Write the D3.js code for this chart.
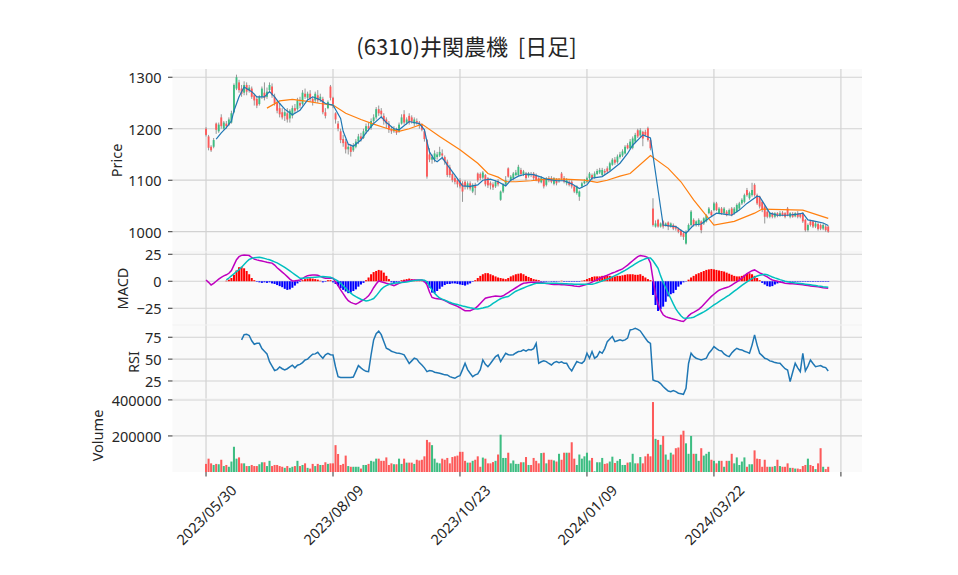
<!DOCTYPE html>
<html><head><meta charset="utf-8">
<script src="https://cdn.jsdelivr.net/npm/d3@7"></script>
<style>body{margin:0;background:#fff}svg{display:block}text{font-family:"Noto Sans","Noto Sans CJK JP",sans-serif;fill:#262626}</style>
</head><body><svg id="c" width="958" height="575"></svg>
<script>
const title = "(6310)井関農機  [日足]";
const tickIdx = [0,50,100,150,200,250];
const tickLabels = ["2023/05/30","2023/08/09","2023/10/23","2024/01/09","2024/03/22",""];
const priceTicks=[1000,1100,1200,1300], macdTicks=[-25,0,25], rsiTicks=[25,50,75], volTicks=[200000,400000];

const open=[1200,1185,1165,1165,1210,1195,1222,1200,1210,1208,1212,1232,1278,1290,1278,1270,1285,1275,1278,1265,1258,1248,1262,1270,1262,1275,1282,1262,1250,1240,1232,1225,1230,1220,1225,1240,1238,1250,1248,1268,1260,1268,1258,1255,1265,1258,1258,1232,1240,1282,1260,1230,1210,1195,1180,1175,1160,1165,1158,1165,1175,1185,1182,1195,1205,1202,1215,1222,1238,1235,1225,1218,1210,1198,1195,1198,1195,1210,1228,1212,1225,1222,1210,1215,1212,1207,1195,1178,1150,1140,1140,1145,1148,1152,1145,1136,1125,1112,1104,1100,1100,1094,1097,1086,1094,1078,1090,1113,1112,1105,1110,1104,1095,1092,1088,1098,1062,1078,1092,1123,1100,1104,1110,1110,1120,1112,1113,1108,1112,1113,1110,1104,1096,1102,1091,1104,1104,1093,1102,1098,1113,1104,1094,1097,1097,1088,1075,1068,1088,1094,1097,1104,1110,1106,1112,1115,1110,1118,1123,1120,1130,1140,1135,1145,1148,1152,1168,1162,1163,1175,1197,1187,1194,1194,1201,1178,1045,1010,1023,1010,1020,1013,1018,1010,1013,1010,1006,1003,997,977,1003,1013,1023,1013,1013,1020,1016,1020,1036,1039,1042,1055,1036,1045,1036,1039,1034,1045,1036,1039,1045,1055,1058,1081,1065,1071,1091,1071,1068,1058,1049,1039,1029,1036,1029,1036,1031,1037,1036,1045,1029,1035,1030,1036,1034,1036,1023,1003,1020,1020,1010,1015,1013,1006,1010,1010];
const high=[1203,1188,1168,1182,1212,1212,1228,1215,1215,1222,1235,1288,1305,1295,1285,1292,1290,1285,1282,1268,1262,1265,1282,1290,1280,1290,1288,1268,1255,1250,1240,1238,1240,1238,1245,1248,1260,1262,1275,1278,1272,1275,1262,1272,1275,1268,1262,1240,1255,1285,1262,1232,1215,1200,1188,1180,1170,1170,1172,1180,1190,1192,1200,1210,1212,1220,1228,1242,1245,1240,1230,1222,1215,1205,1205,1202,1212,1228,1236,1222,1230,1226,1222,1220,1215,1210,1198,1180,1162,1150,1158,1155,1165,1160,1148,1140,1130,1115,1108,1104,1104,1098,1100,1098,1098,1094,1095,1115,1115,1118,1112,1106,1098,1096,1100,1102,1080,1094,1108,1125,1110,1116,1120,1130,1124,1120,1116,1116,1116,1116,1113,1106,1108,1104,1106,1108,1108,1106,1104,1104,1116,1108,1104,1100,1100,1090,1090,1080,1097,1102,1107,1116,1113,1117,1122,1124,1124,1122,1127,1136,1143,1145,1150,1155,1160,1168,1172,1180,1185,1192,1200,1201,1196,1198,1204,1180,1065,1022,1025,1018,1022,1018,1020,1018,1016,1012,1008,1005,1000,1003,1016,1042,1026,1022,1026,1022,1028,1034,1048,1042,1058,1058,1048,1048,1048,1042,1045,1048,1048,1055,1058,1065,1074,1085,1078,1095,1094,1074,1070,1060,1052,1042,1038,1038,1038,1038,1040,1040,1038,1048,1038,1038,1038,1040,1036,1038,1025,1016,1023,1022,1019,1018,1016,1016,1013,1012];
const low=[1185,1158,1155,1162,1190,1192,1200,1198,1200,1205,1210,1230,1275,1270,1262,1265,1265,1270,1258,1245,1240,1245,1258,1255,1258,1270,1260,1245,1230,1222,1218,1215,1212,1212,1220,1230,1235,1240,1245,1258,1255,1252,1245,1250,1250,1252,1228,1220,1238,1255,1240,1210,1195,1172,1165,1152,1150,1146,1155,1162,1170,1175,1180,1190,1195,1198,1210,1218,1225,1220,1208,1200,1192,1190,1192,1188,1192,1208,1208,1208,1208,1210,1205,1208,1200,1195,1175,1103,1135,1132,1135,1140,1145,1140,1130,1106,1105,1096,1092,1086,1084,1058,1082,1082,1080,1075,1071,1096,1100,1102,1088,1085,1082,1081,1085,1088,1060,1075,1090,1105,1098,1100,1108,1108,1108,1108,1100,1105,1106,1100,1098,1094,1094,1084,1088,1096,1094,1090,1090,1095,1100,1094,1090,1088,1084,1075,1072,1060,1085,1092,1094,1100,1100,1103,1110,1112,1108,1110,1113,1117,1128,1130,1132,1142,1145,1150,1160,1160,1160,1172,1182,1184,1166,1185,1175,1158,1010,1008,1008,1008,1006,1010,1003,1008,1003,1002,997,990,984,975,1000,1010,1010,1010,1010,997,1013,1018,1034,1029,1040,1040,1034,1033,1033,1030,1032,1030,1033,1037,1042,1052,1055,1068,1062,1068,1068,1052,1045,1038,1016,1026,1026,1026,1026,1028,1029,1030,1026,1030,1026,1027,1028,1026,1026,1017,1000,1000,1010,1007,1007,1002,1003,1003,1000,998];
const close=[1188,1163,1158,1178,1198,1208,1205,1212,1205,1218,1230,1285,1300,1275,1268,1285,1272,1280,1262,1255,1245,1262,1278,1260,1272,1285,1265,1250,1235,1228,1222,1232,1218,1235,1240,1235,1255,1245,1270,1262,1268,1258,1252,1268,1255,1262,1232,1225,1252,1260,1248,1218,1200,1178,1172,1160,1165,1155,1168,1175,1185,1180,1195,1205,1200,1215,1222,1238,1230,1228,1215,1210,1198,1195,1200,1192,1208,1222,1212,1218,1212,1214,1218,1212,1208,1198,1180,1107,1140,1145,1152,1150,1155,1148,1136,1110,1110,1100,1097,1092,1088,1078,1088,1094,1084,1091,1085,1100,1104,1115,1092,1090,1090,1086,1097,1092,1078,1091,1100,1107,1107,1113,1115,1126,1112,1117,1104,1113,1110,1104,1100,1097,1104,1088,1104,1100,1097,1104,1094,1100,1104,1097,1100,1091,1088,1078,1088,1078,1094,1098,1104,1113,1104,1113,1118,1120,1120,1115,1117,1133,1140,1134,1146,1150,1156,1165,1162,1175,1181,1188,1185,1197,1181,1188,1178,1162,1013,1016,1010,1016,1010,1016,1010,1016,1006,1006,1000,993,990,1000,1013,1039,1013,1020,1023,1003,1026,1032,1045,1032,1055,1042,1045,1036,1045,1032,1042,1032,1045,1052,1055,1062,1071,1071,1075,1081,1071,1055,1049,1042,1029,1029,1036,1029,1036,1031,1036,1032,1029,1032,1036,1029,1036,1029,1029,1020,1003,1013,1013,1010,1016,1005,1006,1013,1003,1000];
const volume=[45,74,48,39,45,43,68,33,39,29,58,140,74,81,48,48,33,33,39,33,33,43,54,54,33,62,33,39,39,33,29,23,33,23,29,33,62,33,39,48,23,19,45,33,45,39,39,54,45,48,48,149,100,39,45,91,33,29,29,29,29,19,39,39,45,62,58,74,74,62,62,81,39,48,43,43,74,45,74,52,52,52,45,68,64,68,87,178,165,149,74,52,48,74,68,78,48,83,87,91,112,112,62,52,52,62,68,87,29,80,74,48,48,55,62,97,207,78,78,107,48,64,45,45,54,54,83,39,39,78,62,48,105,107,48,68,68,64,58,101,68,107,107,107,165,74,39,97,74,87,107,64,78,4,54,54,78,45,48,58,85,50,62,72,39,39,52,54,101,48,48,83,48,87,101,87,388,184,178,151,200,97,68,107,97,132,136,207,229,159,101,200,101,101,62,132,91,101,112,68,62,48,62,62,29,62,62,101,48,81,39,58,81,29,43,43,120,74,72,29,68,29,29,29,33,68,33,29,29,48,23,23,19,19,16,33,39,74,39,33,16,48,132,29,16,29].map(v=>v*1000);

const ma5=[[4,1180],[6,1192],[8,1202],[10,1215],[11,1235],[13,1262],[15,1281],[18,1272],[20,1262],[23,1262],[25,1272],[27,1262],[29,1249],[31,1238],[34,1227],[37,1236],[40,1256],[42,1262],[45,1256],[47,1249],[50,1246],[53,1220],[54,1195],[56,1170],[58,1166],[61,1178],[63,1192],[66,1210],[69,1223],[71,1212],[74,1200],[76,1198],[80,1214],[84,1210],[86,1198],[87,1175],[88,1155],[90,1139],[91,1136],[93,1144],[95,1130],[98,1110],[101,1089],[104,1088],[107,1091],[109,1100],[112,1102],[115,1097],[118,1089],[120,1100],[123,1108],[126,1112],[129,1111],[132,1106],[134,1102],[138,1099],[141,1099],[144,1093],[147,1084],[150,1091],[152,1104],[156,1107],[159,1117],[163,1133],[166,1152],[168,1168],[172,1188],[175,1182],[180,1013],[183,1011],[185,1010],[187,1003],[189,997],[192,1013],[195,1015],[198,1026],[201,1036],[204,1034],[207,1032],[210,1042],[213,1055],[217,1069],[218,1068],[220,1052],[222,1036],[225,1032],[229,1032],[233,1034],[235,1036],[237,1023],[240,1020],[243,1017],[245,1012]];
const ma25=[[24,1240],[29,1254],[34,1257],[40,1253],[45,1249],[50,1246],[55,1230],[61,1218],[66,1209],[71,1201],[76,1195],[80,1200],[85,1209],[92,1185],[100,1159],[107,1133],[111,1113],[115,1106],[118,1097],[122,1097],[128,1099],[134,1102],[141,1102],[149,1100],[154,1096],[158,1100],[163,1108],[167,1113],[175,1148],[182,1123],[187,1097],[192,1062],[200,1013],[208,1020],[216,1036],[219,1044],[235,1042],[245,1026]];

const macd=[1.2,-1,-3.4,-2,0,2,3.7,5,6,7.4,10,15,20,22.8,24,24.4,24.2,23.8,22,20.5,19.8,19.2,18.8,18.2,17.6,17.2,16.8,15,12.5,10.5,8.5,6.5,4.3,2,0.3,0.4,0.8,1.2,2.5,4,5.2,5.5,5.8,5.9,5.5,4.5,3.5,2.9,2.8,2.8,2.8,-0.5,-4,-8,-11.5,-15,-18,-19.5,-20.5,-21.3,-20,-18.5,-17.3,-15.5,-13.5,-10,-6,-2.5,0.3,-0.5,-1.2,-1.9,-2.5,-3.2,-4,-3,-2,-1,-0.3,0.2,0.6,1,1.2,1.2,1.2,1.2,0,-3.4,-10,-15,-15.7,-16.1,-16.5,-17,-17.8,-19,-20.4,-21.3,-22.2,-23.2,-24.5,-26,-27.2,-27.3,-27.2,-26.3,-25,-23,-20.5,-18,-15.7,-15,-14.5,-14,-13.7,-13.8,-14,-13.5,-12,-10.5,-9,-7.5,-6,-4.5,-3,-1.9,-1.5,-1.2,-1,-0.9,-0.9,-0.9,-1.2,-1.6,-2,-2.4,-2.7,-2.9,-3,-3.1,-3.2,-3.3,-3.4,-3.7,-4,-4.4,-4.7,-4.9,-4.2,-3.4,-2.7,-1.9,-0.8,0.4,1.5,2.6,3.7,4.8,5.6,6.6,7.6,8.5,9.5,10.5,11.4,13.2,15,17,19,21,22.8,23.8,23.5,23,21.9,17,2,-12,-21,-27,-31,-32.7,-33.6,-34.3,-34.9,-35.5,-36.2,-36.8,-37.3,-35,-32,-30,-28.8,-27.5,-26,-24,-21.5,-19,-16.5,-14,-12,-10,-8.3,-7.3,-6.5,-5.7,-5,-3.5,-2,-0.5,1,3,5,7,8.5,9.8,10.5,9.2,7.8,6.7,5.3,4,2.5,1.2,0.6,0,-0.6,-1.2,-1.8,-2,-2.2,-2.4,-2.6,-2.7,-2.9,-3.3,-3.7,-4,-4.3,-4.6,-4.9,-5.2,-5.5,-5.9,-6.2,-6.5];
const signalStart=8;
const signal=[1.2,3,5,7,9,10.8,13,15.5,18,20.2,21.2,21.8,22.1,22.2,21.8,21.2,20.5,19.9,19,18,17,15.7,14.3,12.8,11.2,9.6,7.9,6.2,4.5,2.8,2.9,3.1,3.3,3.4,3.6,3.8,4,4.2,4.3,4.1,3.9,3.7,2.7,1.5,0.2,-1.8,-4.2,-6.6,-9,-11,-12.8,-14.3,-15.5,-16.6,-17.5,-18.2,-17.8,-17,-16,-13.5,-10.5,-7.5,-5.3,-4,-3,-2.2,-1.8,-1.5,-1.3,-1.1,-0.9,-0.6,-0.2,0.2,0.6,0.9,1.1,1.2,1,-0.5,-4.5,-8,-11,-13.5,-15.5,-16.5,-17.5,-18.5,-19.5,-20.4,-21,-21.6,-22.3,-22.9,-23.4,-24,-24.6,-25,-25.4,-25.6,-25.2,-24.7,-24.1,-23.6,-22.3,-20.5,-19,-17.5,-16.2,-15.2,-14.6,-14.2,-12.5,-10.8,-9.2,-8.2,-7.2,-6.2,-5.2,-4.3,-3.4,-2.6,-1.9,-1.9,-1.9,-1.9,-1.9,-1.9,-1.9,-1.9,-1.9,-2,-2.1,-2.2,-2.3,-2.5,-2.6,-2.7,-2.8,-2.8,-2.8,-2.8,-2.8,-2.8,-2.8,-2.2,-1.4,-0.6,0.3,1.1,2,2.8,4,5.2,6.3,7.5,8.8,10,11.5,13,14.5,16,17.5,18.8,19.8,20.8,21.6,21.5,19,15.5,12,5,-1,-6,-11,-16,-21,-25.5,-29,-32,-34,-34.3,-34.1,-33.8,-33.3,-32,-30.8,-29.6,-28.4,-27,-25.3,-23.6,-21.9,-20.4,-18.8,-17.3,-15.8,-14.3,-12.8,-11,-9.2,-7.5,-5.7,-3.9,-2.2,-0.6,1,2.5,3.8,4.8,5.5,6,6.4,6,5,4,3.1,2.3,1.5,0.8,0,-0.5,-0.9,-1.2,-1.5,-1.8,-2.1,-2.4,-2.7,-3,-3.3,-3.6,-3.9,-4.3,-4.6,-5,-5.3,-5.6];
const hist=[0.5,1.5,3,6,10,13,13.5,12,9.5,6.5,3,1,-0.5,-1,-1.5,-1,-1.5,-1,-2,-2.5,-3.5,-4.5,-5.5,-7,-8,-7.5,-6,-4,-2,-0.5,1,2,2.5,2.8,2.5,2,1.5,0.5,-1,-0.5,1,1,-1,-2.5,-4.5,-6.5,-8,-9.5,-11,-10.5,-9,-7.5,-5,-3,-1.5,1,3.5,6.5,8.5,9.5,10.5,10,8,5,2,-1,-1.5,-1,-0.5,1,1.5,2,2.5,2,1.5,1,0.5,0.3,-1,-2.5,-6,-10.5,-11,-9,-7,-5,-3.5,-2.5,-2.5,-2,-2,-2.5,-3,-3.5,-4,-3,-2,-0.5,1,3,5,6.5,7.5,7.5,6.5,5.5,4.5,3.5,3,2.5,2,3,4.5,5.5,6.5,7,7.4,6.5,5,4,3,2,1.5,1,-0.5,-0.5,-0.5,-0.3,-0.5,-0.5,-0.5,-0.3,0.5,-0.5,-0.5,-0.5,-0.5,-0.5,-0.5,-0.5,0.5,1,2,3,4,4.5,4.5,4.5,5,5,5,5,4.5,4.5,5,5,5.5,6,6.5,6.5,6.5,6,6,6.5,5,3.5,2,1,-12.7,-22,-27.5,-26,-23.5,-19,-14,-12,-11,-8,-5,-3,-1,-0.3,1.5,3.5,5,6.5,7.5,8.5,9.5,10.5,11,11.4,11,10.5,10,9.5,9,8,7,6,5,4.5,4.5,5,6,7,7.4,6.5,5,3,1,-1.5,-3,-4.5,-5,-4.5,-3,-2,-1,-0.5,-0.5,-0.5,-0.5,-0.5,-0.5,-0.5,-0.5,-0.5,-0.5,-0.5,-0.5,-0.5,-0.5,-0.5,-0.5,-0.5,-0.5,-0.5];
const rsiStart=14;
const rsi=[72,78,78.5,77,71,67,68,68,62,59,56,47,42,37,38,41,39,37.6,39,41,43,40,43,44,46,49,50,53,55.5,56,57.8,54,51,55,56.7,55,54.8,41,30,29,29,28.9,29,29,29.5,36,42.6,40,37.6,36,35.7,55,72,79,82,78,70,62.4,61,59,58,57,56.7,56,54.8,50,45,48,51,50,46,43.3,40,35.7,37,36.5,35,34.5,33.8,33,32,31.9,30,29,28.1,30,31.1,38,45.2,38,33.8,30,32,33,38,49,44,41.4,45,49,53,54.8,47.2,52,56.7,55,54.8,55,57,58.6,59,60.5,59,61,60.5,62,68,45.2,47,48,47.2,45,43.3,46,47.2,46,47,45.2,45.2,40,36.5,42,47.2,46,45.2,48,56.7,51,58.6,51,53,58.6,56.7,62,70,73,75.8,70,71,72,71,72,74,83.4,84,85.3,84,82.2,78,73.9,70,68,26.2,25,24.3,22,18.6,16,13.5,12.8,14,12.8,11,10.5,9.8,16.6,45,56.7,53,51,50,49,50,51,56.7,60,64.3,62,60,59.4,56,54,52.9,57,60,62.4,61,60.5,59,58,56.7,66,77.7,66,56.7,54,51,50,48,47.2,46,45.5,45.2,42,39,37.6,24.3,35,45.2,40,35.7,56.7,36.5,42,49,45,41.4,42,42.6,41,40.3,36.5];

const svg=d3.select("#c");
const L=172.5,R=862;
const FS=14.5;
const x=d3.scaleLinear().domain([-13.2,258.3]).range([L,R]);
const step=x(1)-x(0);
const UP="#3dbd82",DOWN="#fd5a5a",WICK="#8a8a8a";
const panels=[
 {key:"price",y0:69,y1:252,dom:[960.6,1316],ticks:priceTicks,fmt:d=>d,label:"Price",lx:116},
 {key:"macd",y0:252,y1:325,dom:[-40.5,27.1],ticks:macdTicks,fmt:d=>d<0?"\u2212"+Math.abs(d):d,label:"MACD",lx:122},
 {key:"rsi",y0:325,y1:399,dom:[4.4,89],ticks:rsiTicks,fmt:d=>d,label:"RSI",lx:133},
 {key:"vol",y0:399,y1:472,dom:[0,405000],ticks:volTicks,fmt:d=>d,label:"Volume",lx:97}
];
const Y={};
panels.forEach(p=>{
  const y=d3.scaleLinear().domain(p.dom).range([p.y1,p.y0]);
  Y[p.key]=y;
  const g=svg.append("g");
  g.append("rect").attr("x",L).attr("y",p.y0).attr("width",R-L).attr("height",p.y1-p.y0).attr("fill","#fafafa");
  g.selectAll("line.h").data(p.ticks).join("line").attr("x1",L).attr("x2",R).attr("y1",d=>y(d)).attr("y2",d=>y(d)).attr("stroke","#d2d2d2").attr("stroke-width",1.2);
  g.selectAll("line.v").data(tickIdx).join("line").attr("x1",d=>x(d)).attr("x2",d=>x(d)).attr("y1",p.y0).attr("y2",p.y1).attr("stroke","#d2d2d2").attr("stroke-width",1.2);
  g.selectAll("line.t").data(p.ticks).join("line").attr("x1",L-4.5).attr("x2",L).attr("y1",d=>y(d)).attr("y2",d=>y(d)).attr("stroke","#333").attr("stroke-width",1);
  g.selectAll("text.t").data(p.ticks).join("text").attr("x",L-11).attr("y",d=>y(d)).attr("text-anchor","end").attr("dominant-baseline","central").attr("font-size",FS).text(p.fmt);
  svg.append("text").attr("transform",`translate(${p.lx},${(p.y0+p.y1)/2}) rotate(-90)`).attr("text-anchor","middle").attr("dominant-baseline","central").attr("font-size",FS).text(p.label);
});
svg.selectAll("line.sep").data([252,325,399]).join("line").attr("x1",L).attr("x2",R).attr("y1",d=>d).attr("y2",d=>d).attr("stroke","#f2f2f2").attr("stroke-width",1);

const idx=d3.range(close.length);
const yp=Y.price;
const cg=svg.append("g");
cg.selectAll("line").data(idx).join("line").attr("x1",i=>x(i)).attr("x2",i=>x(i)).attr("y1",i=>yp(high[i])).attr("y2",i=>yp(low[i])).attr("stroke",WICK).attr("stroke-width",0.9);
cg.selectAll("rect").data(idx).join("rect").attr("x",i=>x(i)-step*0.37).attr("width",step*0.74)
  .attr("y",i=>yp(Math.max(open[i],close[i]))).attr("height",i=>Math.max(0.8,Math.abs(yp(open[i])-yp(close[i]))))
  .attr("fill",i=>close[i]>=open[i]?UP:DOWN);
const lineP=d3.line().x(d=>x(d[0])).y(d=>yp(d[1]));
svg.append("path").attr("d",lineP(ma25)).attr("fill","none").attr("stroke","#ff7f0e").attr("stroke-width",1.2);
svg.append("path").attr("d",lineP(ma5)).attr("fill","none").attr("stroke","#1f77b4").attr("stroke-width",1.2);

const ym=Y.macd;
svg.append("g").selectAll("rect").data(hist).join("rect").attr("x",(d,i)=>x(i+signalStart)-step*0.4).attr("width",step*0.8)
  .attr("y",d=>ym(Math.max(0,d))).attr("height",d=>Math.abs(ym(d)-ym(0))).attr("fill",d=>d>=0?"#ff0000":"#0000ff");
svg.append("path").attr("d",d3.line().x((d,i)=>x(i)).y(d=>ym(d))(macd)).attr("fill","none").attr("stroke","#bf00bf").attr("stroke-width",1.5);
svg.append("path").attr("d",d3.line().x((d,i)=>x(i+signalStart)).y(d=>ym(d))(signal)).attr("fill","none").attr("stroke","#00bfbf").attr("stroke-width",1.5);

const yr=Y.rsi;
svg.append("path").attr("d",d3.line().x((d,i)=>x(i+rsiStart)).y(d=>yr(d))(rsi)).attr("fill","none").attr("stroke","#1f77b4").attr("stroke-width",1.5);

const yv=Y.vol;
svg.append("g").selectAll("rect").data(idx).join("rect").attr("x",i=>x(i)-step*0.4).attr("width",step*0.8)
  .attr("y",i=>yv(volume[i])).attr("height",i=>yv(0)-yv(volume[i])).attr("fill",i=>close[i]>=open[i]?UP:DOWN);

const xb=472;
svg.selectAll("line.xt").data(tickIdx).join("line").attr("x1",d=>x(d)).attr("x2",d=>x(d)).attr("y1",xb).attr("y2",xb+4.5).attr("stroke","#333");
tickIdx.forEach((t,k)=>{
  if(!tickLabels[k]) return;
  const tx=svg.append("text").attr("font-size",FS).attr("text-anchor","middle").attr("dominant-baseline","central").text(tickLabels[k]);
  const len=tx.node().getComputedTextLength();
  const bh=(len+FS)/Math.SQRT2;
  tx.attr("transform",`translate(${x(t)},${xb+10+bh/2}) rotate(-45)`);
});

svg.append("text").attr("x",466.5).attr("y",45).attr("text-anchor","middle").attr("dominant-baseline","central").attr("font-size",22).style("font-family","'Noto Sans CJK JP',sans-serif").style("white-space","pre").text(title);
</script></body></html>
